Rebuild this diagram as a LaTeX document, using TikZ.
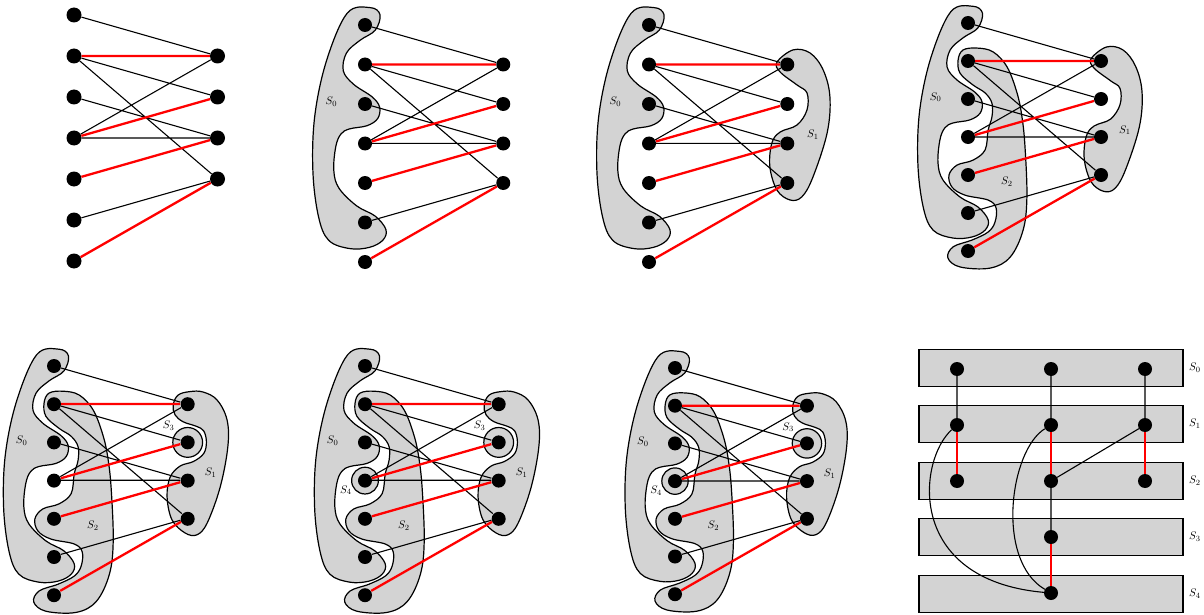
\documentclass[tikz,border=0pt]{standalone}
\definecolor{blobgray}{RGB}{211,211,211}
\tikzset{
  dot/.style={circle,fill=black,inner sep=0pt,minimum size=14pt},
  edgeb/.style={black,line width=1.1pt},
  edger/.style={red,line width=2.3pt},
  blob/.style={draw=black,fill=blobgray,line width=1.2pt},
  lab/.style={inner sep=0pt,font=\fontsize{11}{13}\selectfont},
  rowbox/.style={draw=black,fill=blobgray,line width=1.2pt},
}
\newcommand\bipnodes[1]{%
  \foreach \i in {1,...,7} {\node[dot] (#1a\i) at (0,\i-1) {};}
  \foreach \j in {1,...,4} {\node[dot] (#1b\j) at (3.5,\j) {};}
}
\newcommand\bipedges[1]{%
  \draw[edgeb] (#1a1)--(#1b1) (#1a2)--(#1b2) (#1a2)--(#1b4) (#1a3)--(#1b3)
               (#1a4)--(#1b1) (#1a4)--(#1b3) (#1a6)--(#1b4);
  \draw[edger] (#1a2)--(#1b1) (#1a4)--(#1b2) (#1a5)--(#1b3) (#1a7)--(#1b4);
}
\newcommand\blobSzero{%
  \draw[blob] plot[smooth cycle,tension=0.6] coordinates {(0.13,-0.44) (0.38,-0.26) (0.26,0.13) (-0.13,0.39) (-0.47,0.71) (-0.55,1.16) (-0.29,1.5) (0.18,1.82) (0.37,2.08) (0.32,2.37) (0.05,2.55) (-0.39,2.63) (-0.61,2.76) (-0.74,3.08) (-0.79,3.68) (-0.66,4.13) (-0.21,4.58) (0.26,4.84) (0.53,5.18) (0.45,5.45) (0.11,5.63) (-0.39,5.66) (-0.92,5.45) (-1.18,4.84) (-1.32,3.68) (-1.27,2.29) (-0.97,0.89) (-0.45,-0.3)};}
\newcommand\blobStwo{%
  \draw[blob] plot[smooth cycle,tension=0.6] coordinates {(0.24,0.66) (0.66,0.76) (1.03,1.16) (1.29,1.84) (1.42,2.47) (1.5,3.26) (1.55,4.58) (1.45,5.45) (1.11,6.16) (0.58,6.45) (-0.21,6.42) (-0.53,6.18) (-0.39,5.89) (0.11,5.71) (0.53,5.5) (0.71,5.24) (0.74,4.87) (0.53,4.66) (-0.08,4.53) (-0.42,4.32) (-0.5,4.0) (-0.29,3.74) (0.13,3.61) (0.45,3.34) (0.53,2.82) (0.63,2.47) (0.63,2.11) (0.45,1.84) (0.13,1.63) (-0.21,1.32) (-0.26,0.97) (-0.13,0.71)};}
\newcommand\blobSonea{%
  \draw[blob] plot[smooth cycle,tension=0.6] coordinates {(3.65,0.63) (3.24,0.94) (3.32,1.19) (3.75,1.52) (4.0,1.72) (4.0,2.15) (3.75,2.53) (3.32,2.71) (3.11,2.99) (3.06,3.59) (3.24,4.18) (3.57,4.43) (3.87,4.35) (4.15,3.85) (4.51,2.73) (4.58,1.82) (4.41,1.14) (4.08,0.71)};}
\newcommand\blobSoneb{%
  \draw[blob] plot[smooth cycle,tension=0.6] coordinates {(3.56,0.67) (3.25,0.76) (3.12,1.02) (3.17,1.28) (3.38,1.46) (3.73,1.58) (3.92,1.7) (3.99,1.99) (3.92,2.29) (3.65,2.5) (3.3,2.62) (3.04,2.91) (2.96,3.43) (3.09,4.03) (3.43,4.37) (3.74,4.42) (4.01,4.11) (4.35,3.17) (4.55,2.12) (4.53,1.41) (4.27,0.89) (3.9,0.68)};
  \draw[blob] (3.5,2) circle[radius=0.39];}
\begin{document}
\begin{tikzpicture}[x=1pt,y=-1pt]
\useasboundingbox (0,0) rectangle (1204,615);
% panel 1
\begin{scope}[shift={(74,15)},scale=41,dot/.append style={minimum size=15pt}]
  \bipnodes{pa}
  \bipedges{pa}
\end{scope}
% panel 2
\begin{scope}[shift={(365,25)},scale=39.5]
  \blobSzero
  \node[lab] (pbS0) at (-0.85,1.95) {$S_0$};
  \bipnodes{pb}
  \bipedges{pb}
\end{scope}
% panel 3
\begin{scope}[shift={(649,25)},scale=39.5]
  \blobSzero
  \blobSonea
  \node[lab] (pcS0) at (-0.85,1.95) {$S_0$};
  \node[lab] (pcS1) at (4.15,2.78) {$S_1$};
  \bipnodes{pc}
  \bipedges{pc}
\end{scope}
% panel 4
\begin{scope}[shift={(968,23)},scale=38]
  \blobSzero
  \blobStwo
  \blobSonea
  \node[lab] (pdS0) at (-0.85,1.95) {$S_0$};
  \node[lab] (pdS1) at (4.13,2.82) {$S_1$};
  \node[lab] (pdS2) at (1.02,4.18) {$S_2$};
  \bipnodes{pd}
  \bipedges{pd}
\end{scope}
% panel 5
\begin{scope}[shift={(54,366)},scale=38.2]
  \blobSzero
  \blobStwo
  \blobSoneb
  \node[lab] (peS0) at (-0.85,1.95) {$S_0$};
  \node[lab] (peS1) at (4.1,2.8) {$S_1$};
  \node[lab] (peS2) at (1.02,4.18) {$S_2$};
  \node[lab] (peS3) at (3.0,1.57) {$S_3$};
  \bipnodes{pe}
  \bipedges{pe}
\end{scope}
% panel 6
\begin{scope}[shift={(365,366)},scale=38.2]
  \blobSzero
  \blobStwo
  \blobSoneb
  \draw[blob] (0,3) circle[radius=0.35];
  \node[lab] (pfS0) at (-0.85,1.95) {$S_0$};
  \node[lab] (pfS1) at (4.1,2.8) {$S_1$};
  \node[lab] (pfS2) at (1.02,4.18) {$S_2$};
  \node[lab] (pfS3) at (3.0,1.57) {$S_3$};
  \node[lab] (pfS4) at (-0.5,3.25) {$S_4$};
  \bipnodes{pf}
  \bipedges{pf}
\end{scope}
% panel 7
\begin{scope}[shift={(675,368)},scale=37.7]
  \blobSzero
  \blobStwo
  \blobSoneb
  \draw[blob] (0,3) circle[radius=0.35];
  \node[lab] (pgS0) at (-0.85,1.95) {$S_0$};
  \node[lab] (pgS1) at (4.1,2.8) {$S_1$};
  \node[lab] (pgS2) at (1.02,4.18) {$S_2$};
  \node[lab] (pgS3) at (3.0,1.57) {$S_3$};
  \node[lab] (pgS4) at (-0.5,3.25) {$S_4$};
  \bipnodes{pg}
  \bipedges{pg}
\end{scope}
% panel 8
\foreach \r/\y in {0/368,1/424,2/481,3/537,4/594} {
  \draw[rowbox] (919,\y-18.5) rectangle (1183,\y+18.5);
  \node[lab,anchor=west] (lev\r) at (1189,\y) {$S_\r$};
}
\node[dot] (h11) at (957,369) {};
\node[dot] (h12) at (1051,369) {};
\node[dot] (h13) at (1145,369) {};
\node[dot] (h21) at (957,425) {};
\node[dot] (h22) at (1051,425) {};
\node[dot] (h23) at (1145,425) {};
\node[dot] (h31) at (957,481) {};
\node[dot] (h32) at (1051,481) {};
\node[dot] (h33) at (1145,481) {};
\node[dot] (h42) at (1051,537) {};
\node[dot] (h52) at (1051,593) {};
\draw[edgeb] (h11)--(h21) (h12)--(h22) (h13)--(h23) (h23)--(h32) (h32)--(h42);
\draw[edgeb] (h21) .. controls (918,460) and (905,580) .. (h52);
\draw[edgeb] (h22) .. controls (1010,450) and (995,560) .. (h52);
\draw[edger] (h21)--(h31) (h22)--(h32) (h23)--(h33) (h42)--(h52);
\end{tikzpicture}
\end{document}
